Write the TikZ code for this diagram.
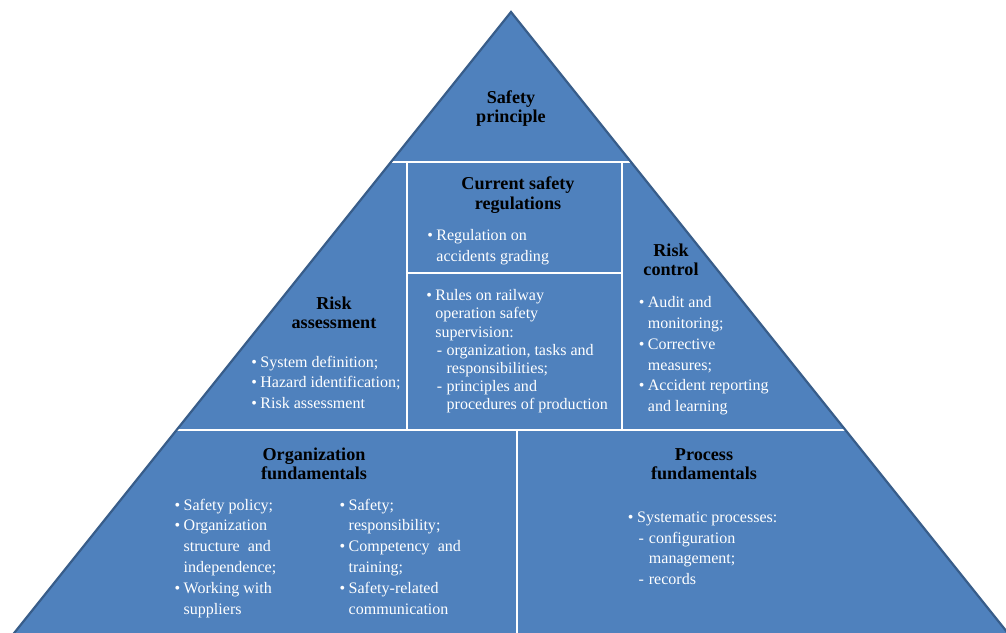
\documentclass[tikz,border=0pt]{standalone}
\usepackage{fontspec}
\setmainfont{Liberation Serif}

\definecolor{fillblue}{HTML}{4F81BD}
\definecolor{edgeblue}{HTML}{385D8A}

\tikzset{
	head/.style={anchor=base, inner sep=0pt, text=black, font=\fontsize{12.9}{14.2}\selectfont\bfseries},
	list/.style={anchor=base west, inner sep=0pt, text=white, font=\fontsize{11.4}{14.8}\selectfont},
	tight/.style={list, font=\fontsize{11.4}{12.95}\selectfont},
	sep/.style={white, line width=1.3pt}
}

\begin{document}
\begin{tikzpicture}[x=0.025cm, y=-0.025cm]
	\useasboundingbox (0,0) rectangle (1006,632);
	
	\coordinate (t) at (511,12);
	\coordinate (l) at (11.8,636);
	\coordinate (r) at (1010.2,636);
	\fill [fillblue] (t) -- (l) -- (r) -- cycle;
	
	\coordinate (a1) at (391,162);
	\coordinate (a2) at (631,162);
	\coordinate (b1) at (407,162);
	\coordinate (b2) at (407,430);
	\coordinate (c1) at (622,162);
	\coordinate (c2) at (622,430);
	\coordinate (d1) at (407,273);
	\coordinate (d2) at (622,273);
	\coordinate (e1) at (176.6,430);
	\coordinate (e2) at (845.4,430);
	\coordinate (f1) at (517,430);
	\coordinate (f2) at (517,636);
	
	\path [sep]
	(a1) edge (a2)
	(b1) edge (b2)
	(c1) edge (c2)
	(d1) edge (d2)
	(e1) edge (e2)
	(f1) edge (f2);
	
	\draw [edgeblue, line width=1.6pt, line join=miter] (t) -- (l) -- (r) -- cycle;
	
	\node [head] (1) at (511,103) {\begin{tabular}[t]{@{}c@{}}Safety\\principle\end{tabular}};
	\node [head] (2) at (518,189.3) {\begin{tabular}[t]{@{}c@{}}Current safety\\regulations\end{tabular}};
	\node [list] (3) at (427,240.7) {\begin{tabular}[t]{@{}l@{\hspace{2.5pt}}l@{}}
		\textbullet & Regulation on\\
		& accidents grading
	\end{tabular}};
	\node [tight] (4) at (426,300.7) {\begin{tabular}[t]{@{}l@{\hspace{2.5pt}}l@{\hspace{3.2pt}}l@{}}
		\textbullet & \multicolumn{2}{@{}l@{}}{Rules on railway}\\
		& \multicolumn{2}{@{}l@{}}{operation safety}\\
		& \multicolumn{2}{@{}l@{}}{supervision:}\\
		& \hspace{1pt}- & organization, tasks and\\
		& & responsibilities;\\
		& \hspace{1pt}- & principles and\\
		& & procedures of production
	\end{tabular}};
	\node [head] (5) at (334,309) {\begin{tabular}[t]{@{}c@{}}Risk\\assessment\end{tabular}};
	\node [list] (6) at (251,367) {\begin{tabular}[t]{@{}l@{\hspace{2.5pt}}l@{}}
		\textbullet & System definition;\\
		\textbullet & Hazard identification;\\
		\textbullet & Risk assessment
	\end{tabular}};
	\node [head] (7) at (671,256) {\begin{tabular}[t]{@{}c@{}}Risk\\control\end{tabular}};
	\node [list] (8) at (638.5,307.7) {\begin{tabular}[t]{@{}l@{\hspace{2.5pt}}l@{}}
		\textbullet & Audit and\\
		& monitoring;\\
		\textbullet & Corrective\\
		& measures;\\
		\textbullet & Accident reporting\\
		& and learning
	\end{tabular}};
	\node [head] (9) at (314,460) {\begin{tabular}[t]{@{}c@{}}Organization\\fundamentals\end{tabular}};
	\node [list] (10) at (174.3,510) {\begin{tabular}[t]{@{}l@{\hspace{2.5pt}}l@{}}
		\textbullet & Safety policy;\\
		\textbullet & Organization\\
		& structure\ \ and\\
		& independence;\\
		\textbullet & Working with\\
		& suppliers
	\end{tabular}};
	\node [list] (11) at (339.3,510) {\begin{tabular}[t]{@{}l@{\hspace{2.5pt}}l@{}}
		\textbullet & Safety;\\
		& responsibility;\\
		\textbullet & Competency\ \ and\\
		& training;\\
		\textbullet & Safety-related\\
		& communication
	\end{tabular}};
	\node [head] (12) at (704,460) {\begin{tabular}[t]{@{}c@{}}Process\\fundamentals\end{tabular}};
	\node [list] (13) at (627.7,522.3) {\begin{tabular}[t]{@{}l@{\hspace{2.5pt}}l@{\hspace{3.6pt}}l@{}}
		\textbullet & \multicolumn{2}{@{}l@{}}{Systematic processes:}\\
		& \hspace{1pt}- & configuration\\
		& & management;\\
		& \hspace{1pt}- & records
	\end{tabular}};
\end{tikzpicture}
\end{document}
